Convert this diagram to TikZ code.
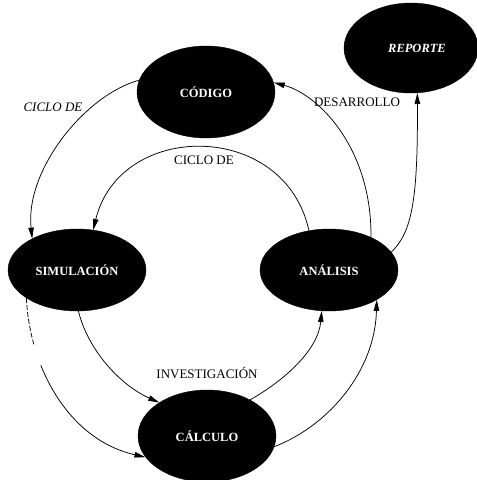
\documentclass[tikz,border=0pt]{standalone}
\usepackage{fontspec}
\setmainfont{Liberation Serif}
\usetikzlibrary{shapes.geometric,arrows.meta}
\begin{document}
\begin{tikzpicture}[x=1pt,y=-1pt,
  blob/.style={ellipse, fill=black, draw=black, inner sep=0pt, text=white,
    minimum width=138pt, minimum height=88pt,
    font=\fontsize{12.5}{14}\selectfont\bfseries},
  lbl/.style={inner sep=1pt, font=\fontsize{13}{15}\selectfont},
  conn/.style={line width=0.75pt, -{Triangle[length=11pt,width=5.5pt]}}]
\useasboundingbox (0,0) rectangle (477,480);
\node[blob, minimum height=92pt] (cod) at (206,92) {CÓDIGO};
\node[blob, minimum width=134pt, minimum height=90pt, font=\fontsize{12.5}{14}\selectfont\bfseries\itshape] (rep) at (411,48) {\hspace*{12pt}REPORTE};
\node[blob, minimum height=82pt] (sim) at (77,270) {SIMULACIÓN};
\node[blob, minimum height=82pt] (ana) at (329,270) {ANÁLISIS};
\node[blob, minimum height=92pt] (cal) at (207,436) {CÁLCULO};

\draw[conn] (cod.170) .. controls (85,95) and (25,170) .. (sim.145);
\draw[conn] (ana.38) .. controls (372,150) and (320,95) .. (cod.8);
\draw[conn] (ana.117) .. controls (285,120) and (120,120) .. (sim.68);
\draw[conn] (ana.16) .. controls (412,232) and (418,200) .. (rep.278);
\draw[conn] (sim.272) .. controls (88,350) and (120,385) .. (cal.145);
\draw[conn, dash pattern=on 5pt off 2pt on 5pt off 2pt on 5pt off 2pt on 5pt off 2pt on 5pt off 2pt on 5pt off 2pt on 5pt off 22pt on 400pt off 1pt] (sim.209) .. controls (30,370) and (70,440) .. (cal.199);
\draw[conn] (cal.40) .. controls (285,380) and (318,350) .. (ana.260);
\draw[conn] (cal.351) .. controls (330,425) and (375,370) .. (ana.328);

\node[lbl, font=\fontsize{13}{15}\selectfont\itshape] (l1) at (53,107) {CICLO DE};
\node[lbl] (l2) at (357,102) {DESARROLLO};
\node[lbl] (l3) at (204,160) {CICLO DE};
\node[lbl] (l4) at (207,373) {INVESTIGACIÓN};
\end{tikzpicture}
\end{document}
